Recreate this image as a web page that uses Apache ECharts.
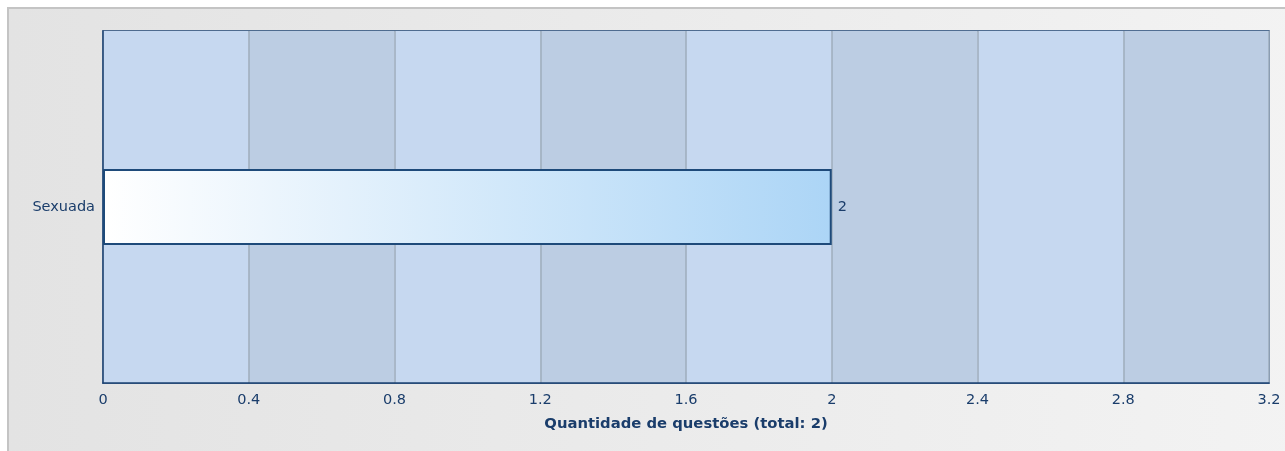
<!DOCTYPE html>
<html>
<head>
<meta charset="utf-8">
<script src="https://cdn.jsdelivr.net/npm/echarts@6/dist/echarts.min.js"></script>
<style>
  html, body { margin: 0; padding: 0; background: #fff; }
  #frame {
    position: absolute; left: 7px; top: 7px; width: 1300px; height: 460px;
    border-left: 2px solid #c4c4c4; border-top: 2px solid #c4c4c4;
    background: linear-gradient(to right, #e3e3e3, #f3f3f3);
  }
  #chart { position: absolute; left: 0; top: 0; width: 1285px; height: 451px; }
</style>
</head>
<body>
<div id="frame"></div>
<div id="chart"></div>
<script>
const categories = ["Sexuada"];
const values = [2];
const axisName = "Quantidade de questões (total: 2)";

const textColor = "#1a3d6b";
const fontSize = 14.5;
const chart = echarts.init(document.getElementById("chart"));

chart.setOption({
  backgroundColor: "transparent",
  textStyle: { fontFamily: "DejaVu Sans", fontSize: fontSize, color: textColor },
  grid: {
    left: 103,
    right: 16,
    top: 31,
    bottom: 68,
    show: true,
    borderColor: "#1c4373",
    borderWidth: 1.5,
    outerBoundsMode: "none",
  },
  xAxis: {
    type: "value",
    min: 0,
    max: 3.2,
    interval: 0.4,
    name: axisName,
    nameLocation: "middle",
    nameGap: 34,
    nameTextStyle: { fontWeight: "bold", fontSize: 14.8, color: textColor },
    axisLine: { show: true, lineStyle: { color: "#1c4373", width: 1.5 } },
    axisTick: { show: false },
    axisLabel: { color: textColor, fontSize: fontSize, margin: 10 },
    splitLine: { show: true, lineStyle: { color: "#9eacbc", width: 1.5 } },
    splitArea: {
      show: true,
      areaStyle: { color: ["#c6d8f0", "#bccde3"] },
    },
  },
  yAxis: {
    type: "category",
    data: categories,
    axisLine: { show: true, lineStyle: { color: "#1c4373", width: 1.5 } },
    axisTick: { show: false },
    axisLabel: { color: textColor, fontSize: fontSize, margin: 8, padding: [6, 0, 0, 0] },
  },
  series: [
    {
      type: "bar",
      data: values,
      barWidth: 76,
      itemStyle: {
        color: new echarts.graphic.LinearGradient(0, 0, 1, 0, [
          { offset: 0, color: "#ffffff" },
          { offset: 1, color: "#acd5f6" },
        ]),
        borderColor: "#1e4a7a",
        borderWidth: 2,
      },
      label: {
        show: true,
        position: "right",
        distance: 6,
        color: textColor,
        fontSize: fontSize,
        padding: [6, 0, 0, 0],
      },
    },
  ],
});
</script>
</body>
</html>
